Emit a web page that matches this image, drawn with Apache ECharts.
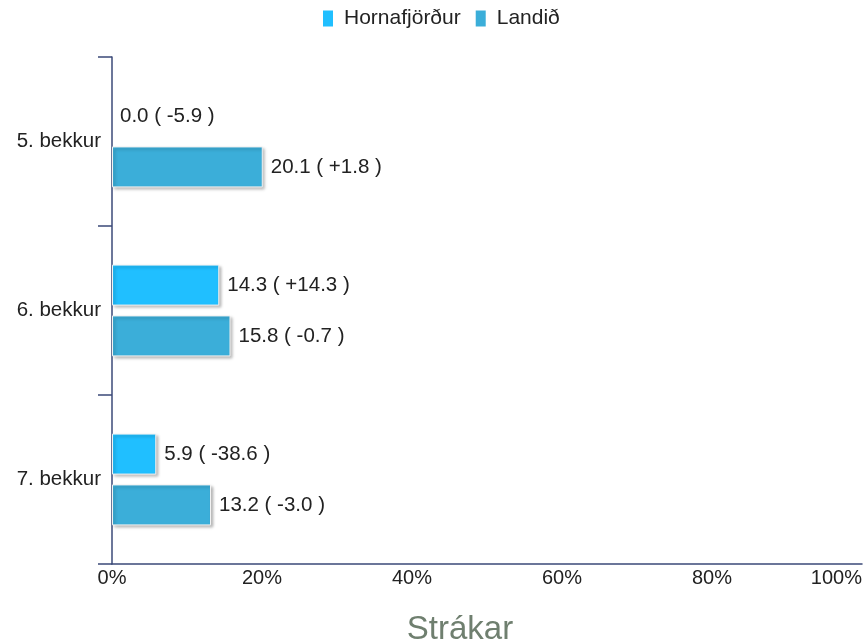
<!DOCTYPE html>
<html><head><meta charset="utf-8">
<script src="https://cdn.jsdelivr.net/npm/echarts@6/dist/echarts.min.js"></script>
<style>html,body{margin:0;padding:0;background:#fff}#c{width:867px;height:643px}</style>
</head><body><div id="c"></div>
<script>
const categories = ['5. bekkur', '6. bekkur', '7. bekkur'];
const seriesNames = ['Hornafjörður', 'Landið'];
const hornValues = [0.0, 14.3, 5.9];
const hornDiffs = [-5.9, 14.3, -38.6];
const landValues = [20.1, 15.8, 13.2];
const landDiffs = [1.8, -0.7, -3.0];
const xTicks = [0, 20, 40, 60, 80, 100];
const title = 'Strákar';

const FONT = 'Liberation Sans, Arial, sans-serif';
function fmtDiff(d) { return (d > 0 ? '+' : '') + d.toFixed(1); }
function mkData(vals, diffs) {
  return vals.map((v, i) => {
    const item = { value: v, diff: diffs[i] };
    if (v === 0) item.itemStyle = { borderWidth: 0, shadowBlur: 0, shadowOffsetX: 0, shadowOffsetY: 0, shadowColor: 'rgba(0,0,0,0)' };
    return item;
  });
}
const chart = echarts.init(document.getElementById('c'));
const barStyle = (color) => ({
  color: color, borderColor: '#f2f2f2', borderWidth: 1,
  shadowColor: 'rgba(0,0,0,0.3)', shadowBlur: 3, shadowOffsetX: 2, shadowOffsetY: 2
});
const lbl = {
  show: true, position: 'right', distance: 8, color: '#222', fontSize: 20.5,
  fontFamily: FONT,
  formatter: p => p.value.toFixed(1) + ' ( ' + fmtDiff(p.data.diff) + ' )'
};
chart.setOption({
  animation: false,
  textStyle: { fontFamily: FONT },
  title: {
    text: title, left: 455, textAlign: 'center', top: 608,
    textStyle: { color: '#6f7f6f', fontSize: 33, fontWeight: 'normal', fontFamily: FONT }
  },
  legend: {
    top: 3, left: 318, icon: 'rect', itemWidth: 10, itemHeight: 16, itemGap: 15,
    itemStyle: { borderWidth: 0, shadowBlur: 0, shadowOffsetX: 0, shadowOffsetY: 0, shadowColor: 'rgba(0,0,0,0)' },
    textStyle: { fontSize: 21, color: '#222', fontFamily: FONT, padding: [0, 0, 0, 6] },
    data: seriesNames
  },
  grid: { left: 112, right: 5, top: 57, bottom: 79, containLabel: false },
  xAxis: {
    type: 'value', min: 0, max: 100, interval: 20,
    axisLine: { show: true, lineStyle: { color: '#3b4a78', width: 1.5 } },
    axisTick: { show: false },
    splitLine: { show: false },
    axisLabel: { formatter: v => xTicks.includes(v) ? v + '%' : '', fontSize: 20, color: '#222', margin: 4,
      alignMaxLabel: 'right', fontFamily: FONT }
  },
  yAxis: {
    type: 'category', data: categories, inverse: true,
    axisLine: { show: true, lineStyle: { color: '#3b4a78', width: 1.5 } },
    axisTick: { show: true, length: 14, lineStyle: { color: '#3b4a78', width: 1.5 } },
    axisLabel: { fontSize: 20.5, color: '#222', margin: 11, fontFamily: FONT }
  },
  series: [
    { name: seriesNames[0], type: 'bar', data: mkData(hornValues, hornDiffs), barWidth: 41, barGap: '24%',
      itemStyle: barStyle('#20bfff'), label: lbl },
    { name: seriesNames[1], type: 'bar', data: mkData(landValues, landDiffs), barWidth: 41,
      itemStyle: barStyle('#3baed9'), label: lbl }
  ]
});
</script></body></html>
